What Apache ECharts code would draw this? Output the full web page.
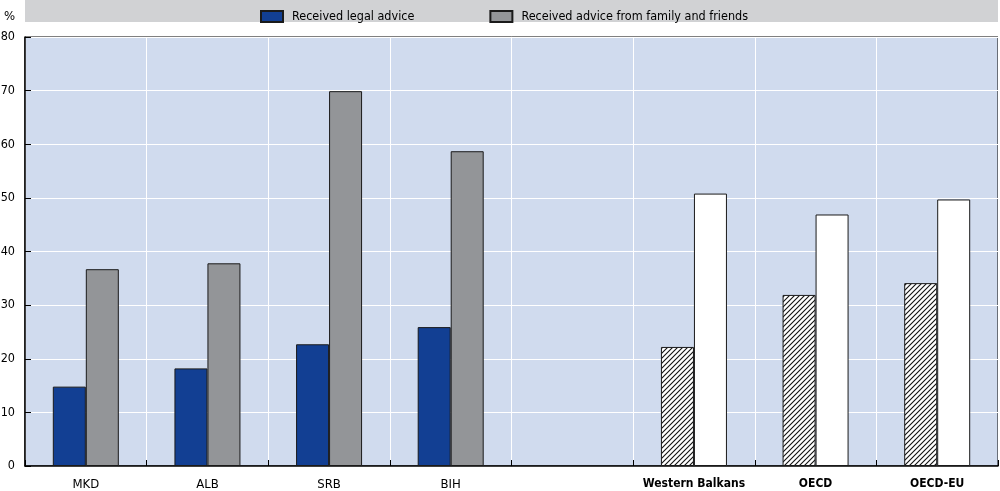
<!DOCTYPE html>
<html><head><meta charset="utf-8">
<script src="https://cdn.jsdelivr.net/npm/echarts@6/dist/echarts.min.js"></script>
<style>html,body{margin:0;padding:0;background:#fff}#c{width:1000px;height:491px}</style>
</head><body><div id="c"></div>
<script>
const categories = ['MKD','ALB','SRB','BIH','','Western Balkans','OECD','OECD-EU'];
const boldCats = ['Western Balkans','OECD','OECD-EU'];
const legalAdvice = [14.8, 18.2, 22.7, 25.9, null, 22.2, 31.9, 34.1];
const familyAdvice = [36.7, 37.8, 69.9, 58.7, null, 50.8, 46.9, 49.7];
const seriesNames = ['Received legal advice','Received advice from family and friends'];
const yTicks = [0,10,20,30,40,50,60,70,80];

const FONT = '"DejaVu Sans Condensed", "Liberation Sans Narrow", sans-serif';
const BLUE = '#123f93', GRAY = '#939598';

const pc = document.createElement('canvas');
pc.width = 5; pc.height = 5;
const g = pc.getContext('2d');
g.fillStyle = '#fff'; g.fillRect(0,0,5,5);
g.strokeStyle = '#111'; g.lineWidth = 1.1;
g.beginPath();
g.moveTo(-1,6); g.lineTo(6,-1);
g.moveTo(-1,1); g.lineTo(1,-1);
g.moveTo(4,6); g.lineTo(6,4);
g.stroke();
const hatch = {image: pc, repeat: 'repeat'};

function mk(vals, alt) {
  return vals.map((v,i) => {
    if (v === null) return null;
    if (boldCats.includes(categories[i])) return {value: v, itemStyle: {color: alt}};
    return v;
  });
}

const chart = echarts.init(document.getElementById('c'), null, {renderer: 'canvas'});
chart.setOption({
  animation: false,
  textStyle: {fontFamily: FONT},
  graphic: [
    {type:'rect', shape:{x:25,y:0,width:973,height:22}, style:{fill:'#d1d2d4'}, z:-10},
    {type:'text', left:4, top:10, style:{text:'%', font:'13px '+FONT, fill:'#000'}}
  ],
  legend: {
    left: 255, top: 5, itemWidth: 22, itemHeight: 11, itemGap: 75, icon: 'rect',
    textStyle: {fontFamily: FONT, fontSize: 12.5, color:'#000', padding:[0,0,0,4]},
    data: seriesNames
  },
  grid: {left: 25, right: 2, top: 37, bottom: 25, outerBoundsMode: 'none', containLabel: false,
    show: true, backgroundColor: '#d0dbee', borderColor: '#000', borderWidth: 1},
  xAxis: {
    type: 'category', data: categories,
    axisLine: {lineStyle: {color: '#000', width: 1.5}},
    axisTick: {show: true, inside: true, length: 6, lineStyle: {color: '#000'}},
    splitLine: {show: true, interval: 0, lineStyle: {color: '#fff', width: 1}},
    axisLabel: {margin: 12, fontSize: 13, color: '#000', fontFamily: FONT, interval: 0,
      formatter: v => boldCats.includes(v) ? '{b|' + v + '}' : v,
      rich: {b: {fontWeight: 'bold', fontSize: 12, fontFamily: FONT, color:'#000'}}}
  },
  yAxis: {
    type: 'value', min: 0, max: 80, interval: 10,
    axisLine: {show: true, lineStyle: {color: '#000', width: 1.5}},
    axisTick: {show: true, inside: true, length: 6, lineStyle: {color: '#000'}},
    splitLine: {show: true, lineStyle: {color: '#fff', width: 1}},
    axisLabel: {margin: 10, fontSize: 12.5, color: '#000', fontFamily: FONT,
      formatter: v => yTicks.includes(v) ? String(v) : ''}
  },
  series: [
    {name: seriesNames[0], type: 'bar', data: mk(legalAdvice, hatch), barWidth: 33, barGap: '0%',
     itemStyle: {color: BLUE, borderColor: '#1a1a1a', borderWidth: 1}},
    {name: seriesNames[1], type: 'bar', data: mk(familyAdvice, '#ffffff'), barWidth: 33, barGap: '0%',
     itemStyle: {color: GRAY, borderColor: '#1a1a1a', borderWidth: 1}}
  ]
});
</script></body></html>
